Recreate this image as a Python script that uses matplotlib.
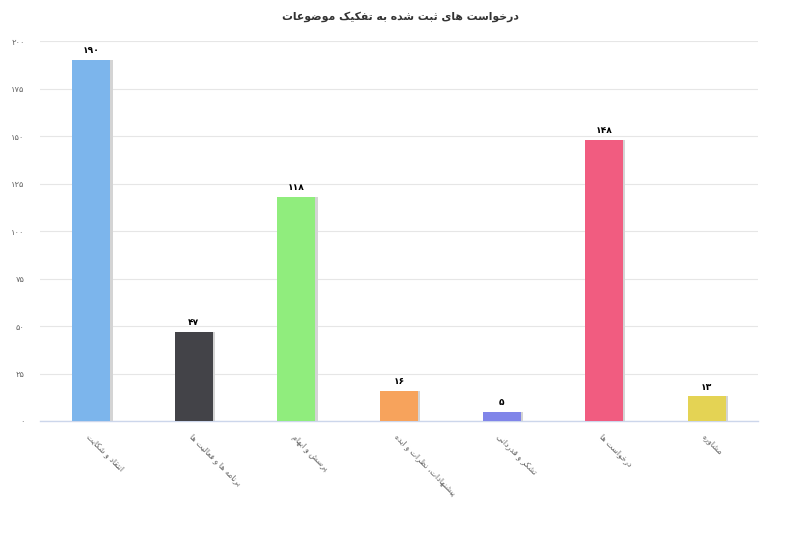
import matplotlib
matplotlib.use('Agg')
import matplotlib.pyplot as plt
import numpy as np

# data
categories = ['انتقاد و شکایت', 'برنامه ها و فعالیت ها', 'پرسش و ابهام',
              'پیشنهادات، نظرات و ایده', 'تشکر و قدردانی', 'درخواست ها', 'مشاوره']
values = [190, 47, 118, 16, 5, 148, 13]
colors = ['#7cb5ec', '#434348', '#90ed7d', '#f7a35c', '#8085e9', '#f15c80', '#e4d354']
yticks = [0, 25, 50, 75, 100, 125, 150, 175, 200]
title = 'درخواست های ثبت شده به تفکیک موضوعات'

# matplotlib has no arabic shaping -> map letters to presentation forms by hand
# (isolated, final, initial, medial)
FORMS = {
    'ا': ('\uFE8D', '\uFE8E', None, None),
    'ب': ('\uFE8F', '\uFE90', '\uFE91', '\uFE92'),
    'پ': ('\uFB56', '\uFB57', '\uFB58', '\uFB59'),
    'ت': ('\uFE95', '\uFE96', '\uFE97', '\uFE98'),
    'ث': ('\uFE99', '\uFE9A', '\uFE9B', '\uFE9C'),
    'ج': ('\uFE9D', '\uFE9E', '\uFE9F', '\uFEA0'),
    'ح': ('\uFEA1', '\uFEA2', '\uFEA3', '\uFEA4'),
    'خ': ('\uFEA5', '\uFEA6', '\uFEA7', '\uFEA8'),
    'د': ('\uFEA9', '\uFEAA', None, None),
    'ذ': ('\uFEAB', '\uFEAC', None, None),
    'ر': ('\uFEAD', '\uFEAE', None, None),
    'ز': ('\uFEAF', '\uFEB0', None, None),
    'س': ('\uFEB1', '\uFEB2', '\uFEB3', '\uFEB4'),
    'ش': ('\uFEB5', '\uFEB6', '\uFEB7', '\uFEB8'),
    'ص': ('\uFEB9', '\uFEBA', '\uFEBB', '\uFEBC'),
    'ض': ('\uFEBD', '\uFEBE', '\uFEBF', '\uFEC0'),
    'ط': ('\uFEC1', '\uFEC2', '\uFEC3', '\uFEC4'),
    'ظ': ('\uFEC5', '\uFEC6', '\uFEC7', '\uFEC8'),
    'ع': ('\uFEC9', '\uFECA', '\uFECB', '\uFECC'),
    'ف': ('\uFED1', '\uFED2', '\uFED3', '\uFED4'),
    'ق': ('\uFED5', '\uFED6', '\uFED7', '\uFED8'),
    'ک': ('\uFB8E', '\uFB8F', '\uFB90', '\uFB91'),
    'ل': ('\uFEDD', '\uFEDE', '\uFEDF', '\uFEE0'),
    'م': ('\uFEE1', '\uFEE2', '\uFEE3', '\uFEE4'),
    'ن': ('\uFEE5', '\uFEE6', '\uFEE7', '\uFEE8'),
    'ه': ('\uFEE9', '\uFEEA', '\uFEEB', '\uFEEC'),
    'و': ('\uFEED', '\uFEEE', None, None),
    'ی': ('\uFBFC', '\uFBFD', '\uFBFE', '\uFBFF'),
}

def shape(text):
    out = []
    for i, ch in enumerate(text):
        if ch not in FORMS:
            out.append(ch)
            continue
        prev = text[i-1] if i > 0 else ''
        nxt = text[i+1] if i + 1 < len(text) else ''
        join_prev = prev in FORMS and FORMS[prev][2] is not None
        join_next = nxt in FORMS and FORMS[ch][2] is not None
        iso, fin, ini, med = FORMS[ch]
        if join_prev and join_next:
            out.append(med)
        elif join_prev:
            out.append(fin)
        elif join_next:
            out.append(ini)
        else:
            out.append(iso)
    return ''.join(out)[::-1]

fa_digits = str.maketrans('0123456789', '۰۱۲۳۴۵۶۷۸۹')
def fa(n):
    return str(n).translate(fa_digits)

plt.rcParams['font.family'] = ['DejaVu Sans']

fig = plt.figure(figsize=(8, 5.47), dpi=100)
ax = fig.add_axes([0.05, 0.2303, 0.8975, 0.6947])

x = np.arange(len(values))
w = 0.37
# soft shadow to the right of each bar
ax.bar(x + 0.022, values, width=w, color='#d4d4d4', zorder=2)
ax.bar(x, values, width=w, color=colors, zorder=3)

for xi, v in zip(x, values):
    ax.text(xi, v + 2.5, fa(v), ha='center', va='bottom', fontsize=6.6,
            fontweight='bold', color='#000000', zorder=4)

ax.set_xlim(-0.5, len(values) - 0.5)
ax.set_ylim(0, 200)
ax.set_yticks(yticks)
ax.set_yticklabels([fa(t) for t in yticks], fontsize=6, color='#666666')
ax.grid(axis='y', color='#e6e6e6', linewidth=0.8, zorder=0)
ax.tick_params(axis='y', length=0, pad=11)
ax.tick_params(axis='x', length=0, pad=8)

ax.set_xticks(x)
ax.set_xticklabels([shape(c) for c in categories], rotation=-45, ha='left',
                   va='top', rotation_mode='anchor', fontsize=5.8, color='#666666')

for s in ['top', 'right', 'left']:
    ax.spines[s].set_visible(False)
ax.spines['bottom'].set_color('#ccd6eb')
ax.spines['bottom'].set_linewidth(1)

fig.text(0.5, 0.969, shape(title), ha='center', va='center', fontsize=7.8,
         fontweight='bold', color='#333333')

fig.savefig('out.png', dpi=100, facecolor='white')
